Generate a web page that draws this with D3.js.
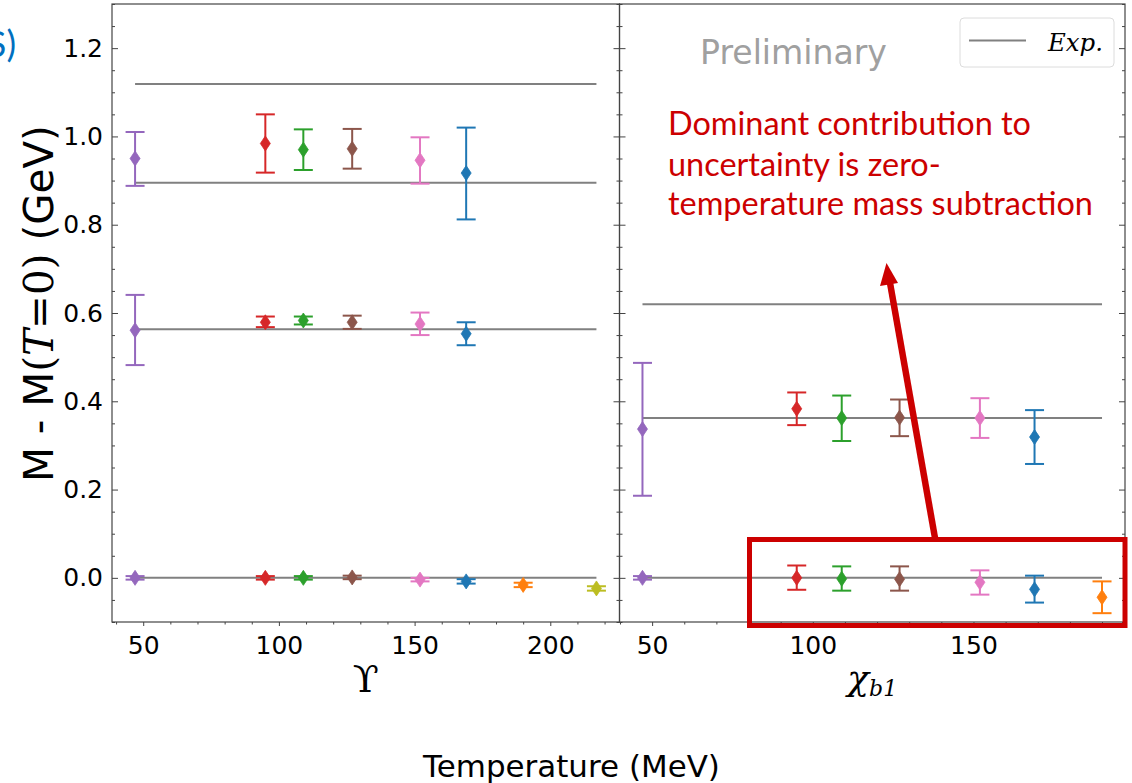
<!DOCTYPE html>
<html>
<head>
<meta charset="utf-8">
<script src="https://cdn.jsdelivr.net/npm/d3@7"></script>
<style>
  html, body { margin: 0; padding: 0; background: #fff; }
  svg { display: block; }
</style>
</head>
<body>
<svg id="chart" width="1132" height="783"></svg>
<script>
// ---------------- DATA ----------------
const temperatures = [47, 95, 109, 127, 152, 169, 190, 217];
const tempColors = ["#9467bd", "#d62728", "#2ca02c", "#8c564b", "#e377c2", "#1f77b4", "#ff7f0e", "#bcbd22"];

// Upsilon panel: experimental mass splittings (GeV)
const upsilonExp = [0.0, 0.563, 0.895, 1.119];
// Upsilon(1S)
const ups1S_val = [0.000, 0.000, 0.000, 0.001, -0.004, -0.008, -0.016, -0.024];
const ups1S_lo  = [-0.004, -0.004, -0.004, -0.003, -0.008, -0.013, -0.021, -0.029];
const ups1S_hi  = [0.004, 0.004, 0.004, 0.005, 0.000, -0.003, -0.011, -0.019];
// Upsilon(2S)
const ups2S_val = [0.561, 0.579, 0.583, 0.579, 0.575, 0.553];
const ups2S_lo  = [0.482, 0.568, 0.574, 0.564, 0.550, 0.527];
const ups2S_hi  = [0.641, 0.592, 0.592, 0.594, 0.601, 0.579];
// Upsilon(3S)
const ups3S_val = [0.950, 0.984, 0.970, 0.972, 0.946, 0.917];
const ups3S_lo  = [0.888, 0.918, 0.924, 0.927, 0.893, 0.812];
const ups3S_hi  = [1.010, 1.050, 1.016, 1.017, 0.998, 1.020];

// chi_b1 panel
const chiExp = [0.0, 0.362, 0.620];
const chi1P_val = [0.000, 0.000, -0.002, -0.003, -0.010, -0.026, -0.044];
const chi1P_lo  = [-0.004, -0.027, -0.029, -0.029, -0.038, -0.056, -0.080];
const chi1P_hi  = [0.004, 0.028, 0.026, 0.026, 0.017, 0.005, -0.008];
const chi2P_val = [0.337, 0.383, 0.362, 0.363, 0.362, 0.319];
const chi2P_lo  = [0.186, 0.346, 0.310, 0.321, 0.317, 0.258];
const chi2P_hi  = [0.487, 0.420, 0.413, 0.404, 0.407, 0.380];

const yTicks = [0.0, 0.2, 0.4, 0.6, 0.8, 1.0, 1.2];
const xTicksLeft = [50, 100, 150, 200];
const xTicksRight = [50, 100, 150];

const annotationLines = ["Dominant contribution to", "uncertainty is zero-", "temperature mass subtraction"];

// ---------------- LAYOUT ----------------
const svg = d3.select("#chart");
const plotTop = 4, plotBottom = 622;
const y = d3.scaleLinear().domain([-0.1, 1.3]).range([plotBottom, plotTop]);
const xL = d3.scaleLinear().domain([38.5, 225.5]).range([112, 619.5]);
const xR = d3.scaleLinear().domain([39.85, 197.15]).range([619.5, 1125]);

const axisColor = "#444";
const expColor = "#808080";

function rows(vals, lo, hi) {
  return vals.map((v, i) => ({ t: temperatures[i], c: tempColors[i], v, lo: lo[i], hi: hi[i] }));
}

function drawPanel(x, expVals, stateRows, xTicks, showYLabels) {
  const g = svg.append("g");
  const [x0, x1] = x.range();
  const pts = stateRows.flat();
  const tMin = d3.min(pts, d => d.t);
  const tMax = d3.max(pts, d => d.t);
  g.selectAll("line.exp").data(expVals).join("line").attr("class", "exp")
    .attr("x1", x(tMin)).attr("x2", x(tMax))
    .attr("y1", d => y(d)).attr("y2", d => y(d))
    .attr("stroke", expColor).attr("stroke-width", 2);

  const pg = g.selectAll("g.pt").data(pts).join("g").attr("class", "pt")
    .attr("transform", d => `translate(${x(d.t)},0)`);
  pg.append("line").attr("x1", 0).attr("x2", 0)
    .attr("y1", d => y(d.lo)).attr("y2", d => y(d.hi))
    .attr("stroke", d => d.c).attr("stroke-width", 2);
  pg.append("line").attr("x1", -9.5).attr("x2", 9.5)
    .attr("y1", d => y(d.lo)).attr("y2", d => y(d.lo))
    .attr("stroke", d => d.c).attr("stroke-width", 2);
  pg.append("line").attr("x1", -9.5).attr("x2", 9.5)
    .attr("y1", d => y(d.hi)).attr("y2", d => y(d.hi))
    .attr("stroke", d => d.c).attr("stroke-width", 2);
  pg.append("path")
    .attr("d", d => { const cy = y(d.v); return `M0,${cy - 7.5}L5,${cy}L0,${cy + 7.5}L-5,${cy}Z`; })
    .attr("fill", d => d.c).attr("stroke", d => d.c).attr("stroke-width", 0.8);

  const minorY = d3.range(-0.1, 1.3001, 0.05).map(v => +v.toFixed(2))
    .filter(v => !yTicks.some(t => Math.abs(t - v) < 1e-6));
  const ax = (gen, tx, ty) => {
    const a = g.append("g").attr("transform", `translate(${tx},${ty})`).call(gen);
    a.select(".domain").remove();
    a.selectAll("line").attr("stroke", axisColor).attr("stroke-width", 1);
    return a;
  };
  const yl = ax(d3.axisLeft(y).tickValues(yTicks).tickSize(-6).tickPadding(9)
    .tickFormat(showYLabels ? d3.format(".1f") : () => ""), x0, 0);
  yl.selectAll("text").attr("font-family", "DejaVu Sans").attr("font-size", 25).attr("fill", "#000");
  ax(d3.axisLeft(y).tickValues(minorY).tickSize(-3).tickFormat(() => ""), x0, 0);
  ax(d3.axisRight(y).tickValues(yTicks).tickSize(-6).tickFormat(() => ""), x1, 0);
  ax(d3.axisRight(y).tickValues(minorY).tickSize(-3).tickFormat(() => ""), x1, 0);

  const [d0, d1] = x.domain();
  const minorX = d3.range(Math.ceil(d0 / 10) * 10, d1, 10).filter(v => v % 50 !== 0);
  const xa = ax(d3.axisBottom(x).tickValues(xTicks).tickSize(4).tickPadding(10).tickFormat(d3.format("d")), 0, plotBottom);
  xa.selectAll("text").attr("font-family", "DejaVu Sans").attr("font-size", 25).attr("fill", "#000");
  ax(d3.axisBottom(x).tickValues(minorX).tickSize(2.5).tickFormat(() => ""), 0, plotBottom);

  g.append("rect").attr("x", x0).attr("y", plotTop).attr("width", x1 - x0).attr("height", plotBottom - plotTop)
    .attr("fill", "none").attr("stroke", axisColor).attr("stroke-width", 1.2);
  return g;
}

drawPanel(xL, upsilonExp,
  [rows(ups1S_val, ups1S_lo, ups1S_hi), rows(ups2S_val, ups2S_lo, ups2S_hi), rows(ups3S_val, ups3S_lo, ups3S_hi)],
  xTicksLeft, true);
drawPanel(xR, chiExp,
  [rows(chi1P_val, chi1P_lo, chi1P_hi), rows(chi2P_val, chi2P_lo, chi2P_hi)],
  xTicksRight, false);

// ---------------- TEXT ----------------
function fitWidth(sel, target) {
  const w = sel.node().getComputedTextLength();
  const fs = parseFloat(sel.attr("font-size"));
  sel.attr("font-size", fs * target / w);
}

const ylab = svg.append("text")
  .attr("transform", "translate(53,303.5) rotate(-90)")
  .attr("text-anchor", "middle").attr("font-size", 34).attr("fill", "#000");
ylab.append("tspan").attr("font-family", "DejaVu Sans").text("M - M");
ylab.append("tspan").attr("font-family", "DejaVu Serif").text("(");
ylab.append("tspan").attr("font-family", "DejaVu Serif").attr("font-style", "italic").text("T");
ylab.append("tspan").attr("font-family", "DejaVu Serif").text("=0)");
ylab.append("tspan").attr("font-family", "DejaVu Sans").text(" (GeV)");
fitWidth(ylab, 357);

svg.append("text").attr("x", (xL.range()[0] + xL.range()[1]) / 2).attr("y", 692)
  .attr("text-anchor", "middle").attr("font-family", "DejaVu Serif").attr("font-size", 38)
  .text("ϒ");
const chiLab = svg.append("text").attr("x", (xR.range()[0] + xR.range()[1]) / 2).attr("y", 690)
  .attr("text-anchor", "middle").attr("font-family", "DejaVu Serif").attr("font-style", "italic");
chiLab.append("tspan").attr("font-size", 36).text("χ");
chiLab.append("tspan").attr("font-size", 22).attr("dy", 6).text("b1");

const xt = svg.append("text").attr("x", 571.5).attr("y", 777).attr("text-anchor", "middle")
  .attr("font-family", "DejaVu Sans").attr("font-size", 29).text("Temperature (MeV)");
fitWidth(xt, 297);

const pre = svg.append("text").attr("x", 700).attr("y", 64).attr("font-family", "DejaVu Sans")
  .attr("font-size", 32).attr("fill", "#a0a0a0").text("Preliminary");
fitWidth(pre, 187);

svg.append("rect").attr("x", 960).attr("y", 18).attr("width", 154).attr("height", 49).attr("rx", 4)
  .attr("fill", "#fff").attr("fill-opacity", 0.8).attr("stroke", "#dcdcdc").attr("stroke-width", 1);
svg.append("line").attr("x1", 969).attr("x2", 1026).attr("y1", 40.5).attr("y2", 40.5)
  .attr("stroke", expColor).attr("stroke-width", 2);
const expT = svg.append("text").attr("x", 1048).attr("y", 51).attr("font-family", "DejaVu Serif")
  .attr("font-style", "italic").attr("font-size", 24).text("Exp.");
fitWidth(expT, 55);

// label fragment cut off at the left edge in the original slide
svg.append("text").attr("x", 16).attr("y", 57).attr("text-anchor", "end")
  .attr("font-family", "Lato").attr("font-size", 36).attr("fill", "#0070c0").text("(5S)");

const red = "#cc0000";
const baselines = [134.5, 175.5, 215];
const ann = svg.append("g");
annotationLines.forEach((s, i) => {
  ann.append("text").attr("x", 668).attr("y", baselines[i]).attr("font-family", "Lato")
    .attr("font-size", 30).attr("fill", red).text(s);
});
{
  const last = ann.selectAll("text").filter((d, i) => i === 2);
  const w = last.node().getComputedTextLength();
  ann.selectAll("text").attr("font-size", 30 * 425 / w);
}

svg.append("rect").attr("x", 749.5).attr("y", 539.5).attr("width", 375.5).attr("height", 86)
  .attr("fill", "none").attr("stroke", red).attr("stroke-width", 5);
svg.append("line").attr("x1", 935).attr("y1", 538).attr("x2", 889.5).attr("y2", 280)
  .attr("stroke", red).attr("stroke-width", 6.5);
svg.append("path").attr("d", "M886.5,263 L898,283 L880,286 Z").attr("fill", red);
</script>
</body>
</html>
